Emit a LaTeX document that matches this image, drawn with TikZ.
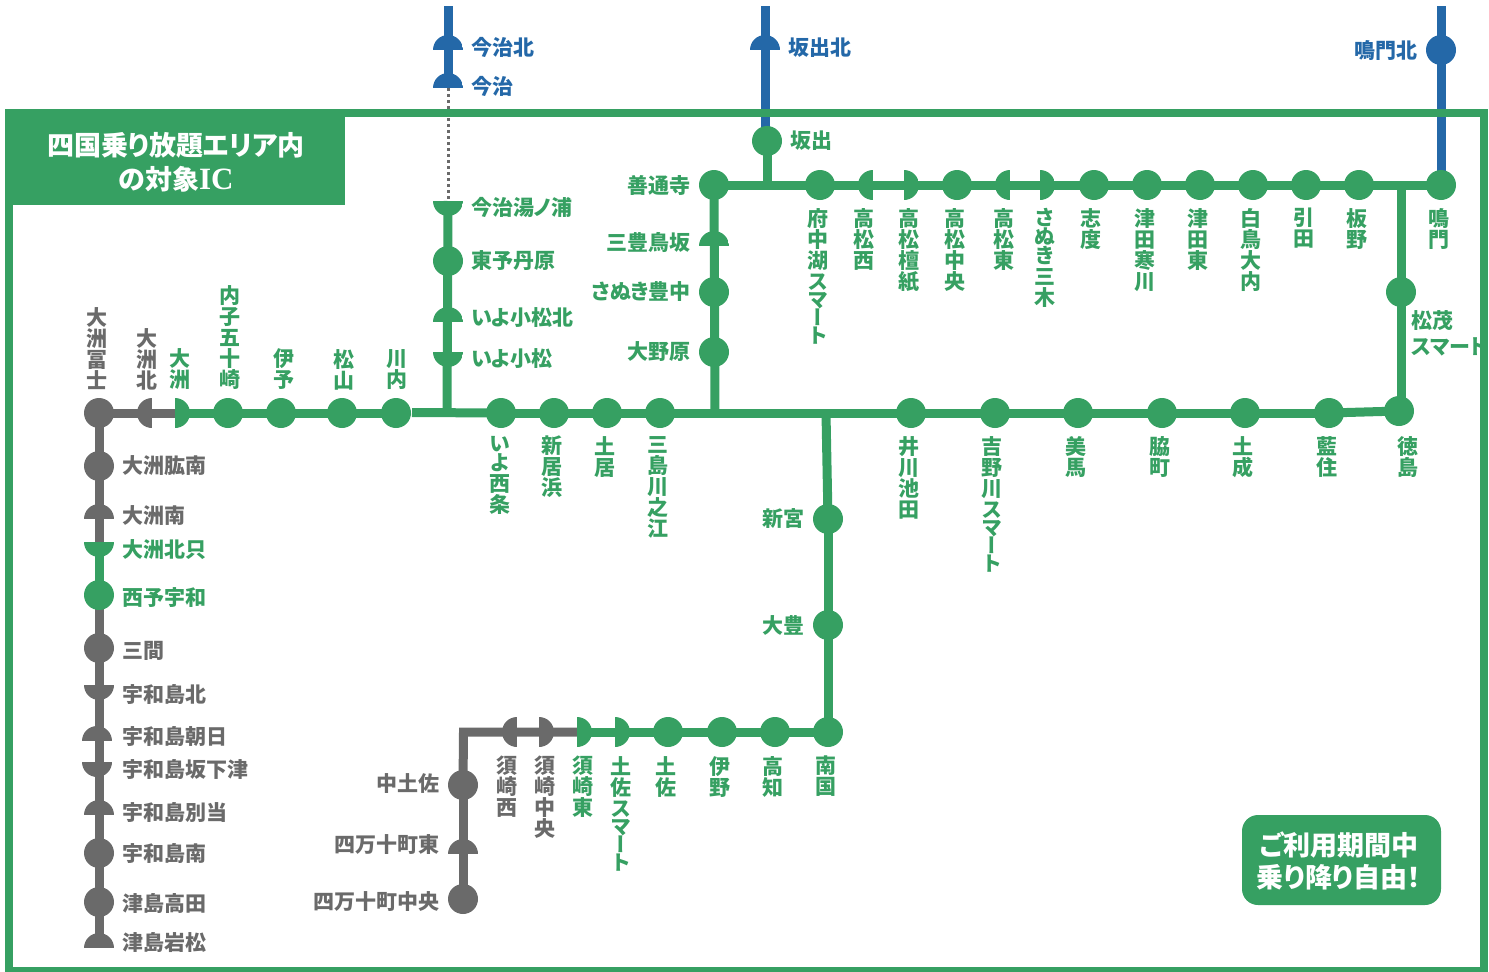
\documentclass[tikz,border=0pt]{standalone}
\usepackage{fontspec}
\setmainfont[RawFeature=+palt]{Noto Sans CJK JP}
\newfontfamily\vertfont[RawFeature=+vert]{Noto Sans CJK JP}
\newfontfamily\icfont{Liberation Serif}
\usetikzlibrary{backgrounds}
\definecolor{hwgreen}{HTML}{36A062}
\definecolor{hwblue}{HTML}{2468A8}
\definecolor{hwgrey}{HTML}{6A6A6A}
\tikzset{
  stn_style/.style={circle,minimum size=30pt,inner sep=0pt,fill=#1},
  top_style/.style={circle,minimum size=30pt,inner sep=0pt,path picture={\fill[#1] (path picture bounding box.north west) rectangle (path picture bounding box.east);}},
  bot_style/.style={circle,minimum size=30pt,inner sep=0pt,path picture={\fill[#1] (path picture bounding box.west) rectangle (path picture bounding box.south east);}},
  lft_style/.style={circle,minimum size=30pt,inner sep=0pt,path picture={\fill[#1] (path picture bounding box.north west) rectangle (path picture bounding box.south);}},
  rgt_style/.style={circle,minimum size=30pt,inner sep=0pt,path picture={\fill[#1] (path picture bounding box.north) rectangle (path picture bounding box.south east);}},
  lbl_style/.style={inner sep=0pt,text=#1,font=\fontsize{21}{21}\selectfont\bfseries},
  up_style/.style={lbl_style=#1,anchor=south,align=center,font=\vertfont\fontsize{21}{21}\selectfont\bfseries},
  dn_style/.style={lbl_style=#1,anchor=north,align=center,font=\vertfont\fontsize{21}{21}\selectfont\bfseries},
  west_style/.style={lbl_style=#1,anchor=west},
  east_style/.style={lbl_style=#1,anchor=east}
}
\begin{document}
\begin{tikzpicture}[x=1pt,y=-1pt,
   edge_style/.style={draw=#1,line width=9pt}]
  \useasboundingbox (0,0) rectangle (1489,972);

  % frame and captions
  \draw [hwgreen,line width=8pt] (9,112.5) rectangle (1484,971);
  \node [fill=hwgreen,minimum width=336pt,minimum height=93pt,inner sep=0pt,anchor=north west] (area) at (9,112) {};
  \node [align=center,inner sep=0pt,text=white,font=\fontsize{27}{34}\selectfont\bfseries] (areatext) at (176,162) {四国乗り放題エリア内\\の対象{\icfont\fontsize{31}{34}\selectfont IC}};
  \node [fill=hwgreen,rounded corners=16pt,minimum width=199pt,minimum height=90pt,inner sep=0pt] (free) at (1341.5,860) {};
  \node [align=center,inner sep=0pt,text=white,font=\fontsize{27}{32}\selectfont\bfseries] (freetext) at (1339,861) {ご利用期間中\\乗り降り自由！};

  % west line
  \node [stn_style=hwgrey] (ozufuji) at (99,413) {};
  \node [lft_style=hwgrey] (ozukita) at (152,413) {};
  \node [rgt_style=hwgreen] (ozu) at (175,413) {};
  \node [stn_style=hwgreen] (uchiko) at (228,413) {};
  \node [stn_style=hwgreen] (iyo) at (281,413) {};
  \node [stn_style=hwgreen] (matsuyama) at (342,413) {};
  \node [stn_style=hwgreen] (kawauchi) at (396,413) {};
  \node [stn_style=hwgreen] (saijo) at (501,413) {};
  \node [stn_style=hwgreen] (niihama) at (554,413) {};
  \node [stn_style=hwgreen] (doi) at (607,413) {};
  \node [stn_style=hwgreen] (mishima) at (660,413) {};
  \node [stn_style=hwgreen] (ikawa) at (911,413) {};
  \node [stn_style=hwgreen] (yoshino) at (995,413) {};
  \node [stn_style=hwgreen] (mima) at (1078,413) {};
  \node [stn_style=hwgreen] (waki) at (1162,413) {};
  \node [stn_style=hwgreen] (donari) at (1245,413) {};
  \node [stn_style=hwgreen] (aizumi) at (1329,413) {};
  \node [stn_style=hwgreen] (tokushima) at (1399,411) {};

  % south branch
  \node [stn_style=hwgrey] (hijinan) at (99,466) {};
  \node [top_style=hwgrey] (ozuminami) at (99,519) {};
  \node [bot_style=hwgreen] (hokutada) at (99,542) {};
  \node [stn_style=hwgreen] (seiyo) at (99,595) {};
  \node [stn_style=hwgrey] (mima2) at (99,648) {};
  \node [bot_style=hwgrey] (uwakita) at (99,685) {};
  \node [top_style=hwgrey] (asahi) at (97,741) {};
  \node [bot_style=hwgrey] (sakashita) at (97,762) {};
  \node [top_style=hwgrey] (betto) at (99,815) {};
  \node [stn_style=hwgrey] (uwaminami) at (99,853) {};
  \node [stn_style=hwgrey] (takada) at (99,902) {};
  \node [top_style=hwgrey] (iwamatsu) at (99,948) {};

  % imabari line
  \node [top_style=hwblue] (imakita) at (448,50) {};
  \node [top_style=hwblue] (imabari) at (448,88) {};
  \node [bot_style=hwgreen] (yunoura) at (448,201) {};
  \node [stn_style=hwgreen] (toyo) at (448,261) {};
  \node [top_style=hwgreen] (komatsukita) at (448,322) {};
  \node [bot_style=hwgreen] (komatsu) at (448,352) {};

  % north line
  \node [top_style=hwblue] (sakakita) at (765,50) {};
  \node [stn_style=hwgreen] (sakaide) at (767,141) {};
  \node [stn_style=hwblue] (narukita) at (1441,50) {};
  \node [stn_style=hwgreen] (zentsuji) at (714,185) {};
  \node [top_style=hwgreen] (torisaka) at (714,246) {};
  \node [stn_style=hwgreen] (toyonaka) at (714,292) {};
  \node [stn_style=hwgreen] (ono) at (714,352) {};
  \node [stn_style=hwgreen] (fuchuko) at (820,185) {};
  \node [lft_style=hwgreen] (takanishi) at (873,185) {};
  \node [rgt_style=hwgreen] (danshi) at (904,185) {};
  \node [stn_style=hwgreen] (chuo) at (957,185) {};
  \node [lft_style=hwgreen] (takahigashi) at (1010,185) {};
  \node [rgt_style=hwgreen] (miki) at (1040,185) {};
  \node [stn_style=hwgreen] (shido) at (1094,185) {};
  \node [stn_style=hwgreen] (sangawa) at (1147,185) {};
  \node [stn_style=hwgreen] (tsudahigashi) at (1200,185) {};
  \node [stn_style=hwgreen] (ochi) at (1253,185) {};
  \node [stn_style=hwgreen] (hiketa) at (1306,185) {};
  \node [stn_style=hwgreen] (itano) at (1359,185) {};
  \node [stn_style=hwgreen] (naruto) at (1441,185) {};
  \node [stn_style=hwgreen] (matsushige) at (1401,292) {};

  % kochi line
  \node [stn_style=hwgreen] (shingu) at (828,519) {};
  \node [stn_style=hwgreen] (otoyo) at (828,625) {};
  \node [stn_style=hwgreen] (nankoku) at (828,732) {};
  \node [stn_style=hwgreen] (kochi) at (775,732) {};
  \node [stn_style=hwgreen] (ino) at (722,732) {};
  \node [stn_style=hwgreen] (tosa) at (668,732) {};
  \node [rgt_style=hwgreen] (tosasm) at (615,732) {};
  \node [rgt_style=hwgreen] (susaki) at (577,732) {};
  \node [rgt_style=hwgrey] (susakichuo) at (539,732) {};
  \node [lft_style=hwgrey] (susakinishi) at (517,732) {};
  \node [stn_style=hwgrey] (nakatosa) at (463,785) {};
  \node [top_style=hwgrey] (shimanto) at (463,854) {};
  \node [stn_style=hwgrey] (shimantochuo) at (463,899) {};

  % junctions
  \coordinate (jgap) at (412,412.5);
  \coordinate (jim) at (447,412);
  \coordinate (jzen) at (715,412);
  \coordinate (jkou) at (826,413);
  \coordinate (jsaka) at (767,185);
  \coordinate (jmat) at (1401,185);
  \coordinate (jtok) at (1401,405);
  \coordinate (ctop) at (463.5,732);
  \coordinate (bimabari) at (448,6);
  \coordinate (bsakaide) at (765,6);
  \coordinate (esakaide) at (765,130);
  \coordinate (bnaruto) at (1441,6);

  \begin{scope}[on background layer]
  \foreach \from/\to/\col in {ozufuji/ozu/hwgrey, ozufuji/hokutada/hwgrey, ozu/kawauchi/hwgreen, jgap/saijo/hwgreen, saijo/aizumi/hwgreen, aizumi/tokushima/hwgreen, hokutada/seiyo/hwgreen, seiyo/iwamatsu/hwgrey, imabari/bimabari/hwblue, bsakaide/esakaide/hwblue, bnaruto/naruto/hwblue, yunoura/jim/hwgreen, zentsuji/jzen/hwgreen, zentsuji/naruto/hwgreen, jsaka/sakaide/hwgreen, jmat/jtok/hwgreen, jkou/shingu/hwgreen, shingu/nankoku/hwgreen, nankoku/susaki/hwgreen, shimantochuo/nakatosa/hwgrey}
    \draw [edge_style=\col] (\from.center) -- (\to.center);
  \draw [edge_style=hwgrey] (nakatosa.center) -- (ctop) -- (susaki.center);
  \draw [hwgrey,line width=3pt,dash pattern=on 3pt off 3pt] (imabari.center) -- (yunoura.center);
  \end{scope}

  % labels beside the lines
  \node [west_style=hwgrey] (l1) at (122,466) {大洲肱南};
  \node [west_style=hwgrey] (l2) at (122,516) {大洲南};
  \node [west_style=hwgreen] (l3) at (122,550) {大洲北只};
  \node [west_style=hwgreen] (l4) at (122,598) {西予宇和};
  \node [west_style=hwgrey] (l5) at (122,651) {三間};
  \node [west_style=hwgrey] (l6) at (122,694) {宇和島北};
  \node [west_style=hwgrey] (l7) at (122,736) {宇和島朝日};
  \node [west_style=hwgrey] (l8) at (122,769) {宇和島坂下津};
  \node [west_style=hwgrey] (l9) at (122,812) {宇和島別当};
  \node [west_style=hwgrey] (l10) at (122,853) {宇和島南};
  \node [west_style=hwgrey] (l11) at (122,903) {津島高田};
  \node [west_style=hwgrey] (l12) at (122,943) {津島岩松};
  \node [west_style=hwblue] (l13) at (471,47) {今治北};
  \node [west_style=hwblue] (l14) at (471,86) {今治};
  \node [west_style=hwgreen] (l15) at (471,207) {今治湯ノ浦};
  \node [west_style=hwgreen] (l16) at (471,261) {東予丹原};
  \node [west_style=hwgreen] (l17) at (471,318) {いよ小松北};
  \node [west_style=hwgreen] (l18) at (471,359) {いよ小松};
  \node [west_style=hwblue] (l19) at (788,48) {坂出北};
  \node [west_style=hwgreen] (l20) at (790,141) {坂出};
  \node [east_style=hwblue] (l21) at (1418,51) {鳴門北};
  \node [east_style=hwgreen] (l22) at (691,185) {善通寺};
  \node [east_style=hwgreen] (l23) at (691,242) {三豊鳥坂};
  \node [east_style=hwgreen] (l24) at (691,292) {さぬき豊中};
  \node [east_style=hwgreen] (l25) at (691,352) {大野原};
  \node [east_style=hwgreen] (l26) at (805,519) {新宮};
  \node [east_style=hwgreen] (l27) at (805,625) {大豊};
  \node [east_style=hwgrey] (l28) at (440,784) {中土佐};
  \node [east_style=hwgrey] (l29) at (440,845) {四万十町東};
  \node [east_style=hwgrey] (l30) at (440,902) {四万十町中央};
  \node [west_style=hwgreen] (l31) at (1411,321) {松茂};
  \node [west_style=hwgreen] (l32) at (1411,347) {スマート};

  % labels set upright
  \node [up_style=hwgrey] (u1) at (97,390) {大\\洲\\冨\\士};
  \node [up_style=hwgrey] (u2) at (147,390) {大\\洲\\北};
  \node [up_style=hwgreen] (u3) at (180,390) {大\\洲};
  \node [up_style=hwgreen] (u4) at (230,390) {内\\子\\五\\十\\崎};
  \node [up_style=hwgreen] (u5) at (284,390) {伊\\予};
  \node [up_style=hwgreen] (u6) at (344,390) {松\\山};
  \node [up_style=hwgreen] (u7) at (397,390) {川\\内};

  \node [dn_style=hwgreen] (d1) at (500,436) {い\\[-2pt]よ\\西\\条};
  \node [dn_style=hwgreen] (d2) at (552,436) {新\\居\\浜};
  \node [dn_style=hwgreen] (d3) at (605,436) {土\\居};
  \node [dn_style=hwgreen] (d4) at (658,436) {三\\島\\川\\之\\江};
  \node [dn_style=hwgreen] (d5) at (909,436) {井\\川\\池\\田};
  \node [dn_style=hwgreen] (d6) at (992,436) {吉\\野\\川\\ス\\[-3pt]マ\\[-3pt]ー\\[-3pt]ト};
  \node [dn_style=hwgreen] (d7) at (1076,436) {美\\馬};
  \node [dn_style=hwgreen] (d8) at (1160,436) {脇\\町};
  \node [dn_style=hwgreen] (d9) at (1243,436) {土\\成};
  \node [dn_style=hwgreen] (d10) at (1327,436) {藍\\住};
  \node [dn_style=hwgreen] (d11) at (1408,436) {徳\\島};

  \node [dn_style=hwgreen] (d12) at (818,208) {府\\中\\湖\\ス\\[-3pt]マ\\[-3pt]ー\\[-3pt]ト};
  \node [dn_style=hwgreen] (d13) at (864,208) {高\\松\\西};
  \node [dn_style=hwgreen] (d14) at (909,208) {高\\松\\檀\\紙};
  \node [dn_style=hwgreen] (d15) at (955,208) {高\\松\\中\\央};
  \node [dn_style=hwgreen] (d16) at (1004,208) {高\\松\\東};
  \node [dn_style=hwgreen] (d17) at (1045,208) {さ\\[-2pt]ぬ\\[-2pt]き\\三\\木};
  \node [dn_style=hwgreen] (d18) at (1091,208) {志\\度};
  \node [dn_style=hwgreen] (d19) at (1145,208) {津\\田\\寒\\川};
  \node [dn_style=hwgreen] (d20) at (1198,208) {津\\田\\東};
  \node [dn_style=hwgreen] (d21) at (1251,208) {白\\鳥\\大\\内};
  \node [dn_style=hwgreen] (d22) at (1304,208) {引\\田};
  \node [dn_style=hwgreen] (d23) at (1357,208) {板\\野};
  \node [dn_style=hwgreen] (d24) at (1439,208) {鳴\\門};

  \node [dn_style=hwgrey] (d25) at (507,756) {須\\崎\\西};
  \node [dn_style=hwgrey] (d26) at (545,756) {須\\崎\\中\\央};
  \node [dn_style=hwgreen] (d27) at (583,756) {須\\崎\\東};
  \node [dn_style=hwgreen] (d28) at (621,756) {土\\佐\\ス\\[-3pt]マ\\[-3pt]ー\\[-3pt]ト};
  \node [dn_style=hwgreen] (d29) at (666,756) {土\\佐};
  \node [dn_style=hwgreen] (d30) at (720,756) {伊\\野};
  \node [dn_style=hwgreen] (d31) at (773,756) {高\\知};
  \node [dn_style=hwgreen] (d32) at (826,756) {南\\国};
\end{tikzpicture}
\end{document}
